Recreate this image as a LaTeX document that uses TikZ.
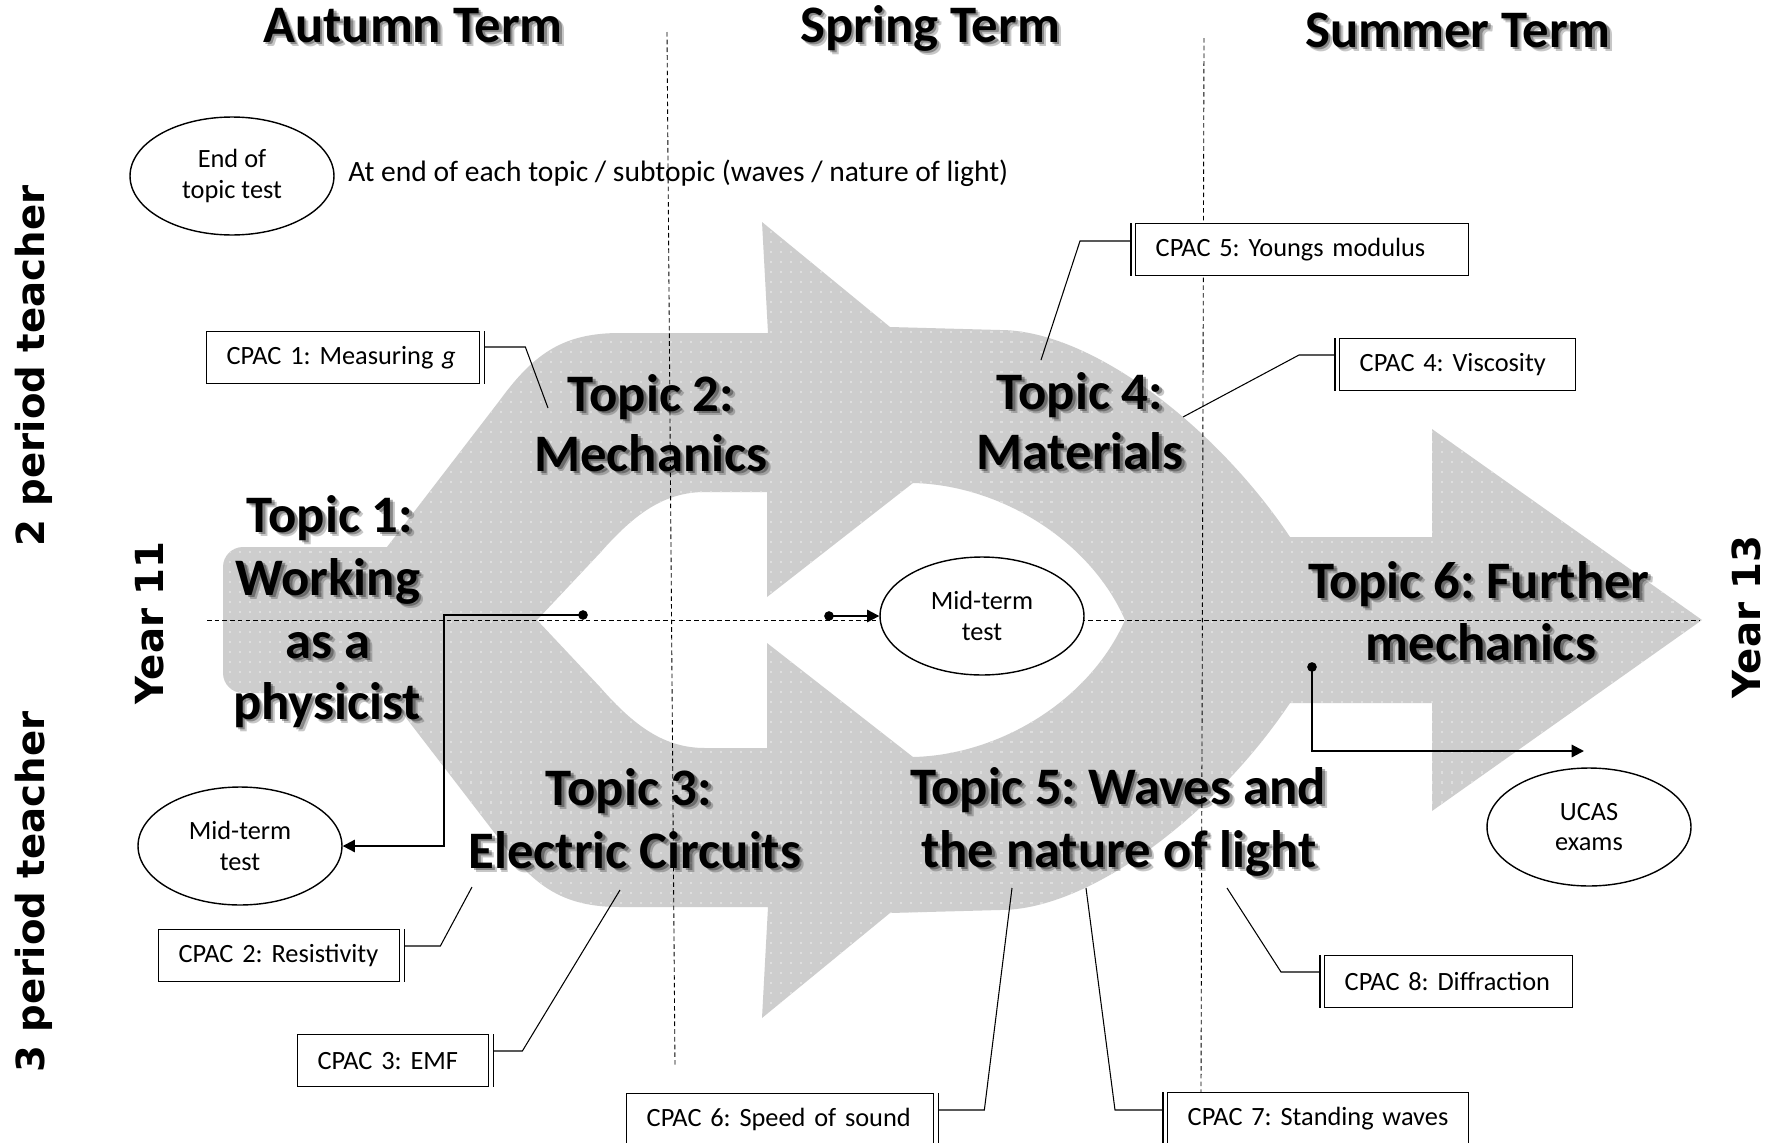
\documentclass[tikz,border=0pt]{standalone}
\usepackage{fontspec}
\setmainfont{Carlito}
\newfontfamily\sidefont{DejaVu Sans}
\usetikzlibrary{shapes.geometric, arrows.meta, patterns, calc}

\definecolor{shapegray}{RGB}{205,205,205}
\definecolor{dotgray}{RGB}{222,222,222}

% light speckle texture for the big flow shape
\pgfdeclarepatternformonly{sparsedots}{\pgfqpoint{-1pt}{-1pt}}{\pgfqpoint{1pt}{1pt}}{\pgfqpoint{5.7pt}{5.7pt}}{%
  \pgfpathrectangle{\pgfqpoint{-0.6pt}{-0.6pt}}{\pgfqpoint{1.2pt}{1.2pt}}\pgfusepath{fill}}

% bold label with a soft drop shadow: name, position, text, style
\newcommand\ShadowLabel[4]{%
  \node[#4, text=black, opacity=.22, xshift=2.6pt, yshift=-2.6pt] (#1-s2) at (#2) {#3};
  \node[#4, text=black, opacity=.32, xshift=1.5pt, yshift=-1.5pt] (#1-s1) at (#2) {#3};
  \node[#4] (#1) at (#2) {#3};
}

\frenchspacing

\begin{document}
\begin{tikzpicture}[x=0.02cm, y=-0.02cm,
  topic/.style={font=\fontsize{30}{36}\selectfont\bfseries, anchor=base, inner sep=0pt},
  side/.style={font=\sidefont\bfseries\fontsize{22}{26}\selectfont, rotate=90, inner sep=0pt},
  note/.style={font=\fontsize{16.8}{20}\selectfont},
  cpac/.style={draw, line width=0.8pt, fill=white, anchor=north west, align=left,
    inner xsep=0.4cm, inner ysep=0pt, minimum height=1.04cm,
    font=\fontsize{15}{17.6}\selectfont, text width=#1},
  bar/.style={line width=0.6pt},
  leader/.style={line width=0.6pt},
  test/.style={ellipse, draw, line width=0.8pt, fill=white, inner sep=0pt,
    minimum width=4.08cm, minimum height=2.36cm, align=center,
    font=\fontsize{15}{17.6}\selectfont},
  guide/.style={line width=0.5pt, dash pattern=on 2.6pt off 1.8pt},
  conn/.style={line width=1.2pt, -{Triangle[length=7pt,width=7pt]}},
  dot/.style={circle, fill=black, inner sep=0pt, minimum size=5.5pt}]

\fill[white] (0,0) rectangle (1779,1143);
\useasboundingbox (0,0) rectangle (1779,1143);

% ---- the big flow shape (two arrows splitting and rejoining into one) ----
\path[fill=shapegray, even odd rule,
      postaction={pattern=sparsedots, pattern color=dotgray, even odd rule}]
  (223,620) -- (223,567) .. controls (223,556) and (232,547) .. (243,547)
  -- (387,547) -- (500,400) .. controls (535,352) and (565,333) .. (620,333)
  -- (768,333) -- (762,222) -- (890,327) -- (1000,330)
  .. controls (1090,330) and (1215,425) .. (1290,537)
  -- (1432,537) -- (1432,429) -- (1702,620) -- (1432,811) -- (1432,703) -- (1290,703)
  .. controls (1215,815) and (1090,910) .. (1000,910)
  -- (890,913) -- (762,1018) -- (768,907) -- (620,907)
  .. controls (565,907) and (535,888) .. (500,840)
  -- (387,693) -- (243,693) .. controls (232,693) and (223,684) .. (223,673) -- cycle
  (537,620) -- (600,553) .. controls (635,513) and (665,492) .. (705,492)
  -- (767,492) -- (767,597) -- (913,483)
  .. controls (1000,485) and (1090,540) .. (1125,620)
  .. controls (1090,700) and (1000,755) .. (913,757)
  -- (767,643) -- (767,748) -- (705,748)
  .. controls (665,748) and (635,727) .. (600,687) -- cycle;

% ---- topic labels ----
\ShadowLabel{t1a}{330,532}{Topic 1:}{topic}
\ShadowLabel{t1b}{328,595}{Working}{topic}
\ShadowLabel{t1c}{328,658}{as a}{topic}
\ShadowLabel{t1d}{327,719}{physicist}{topic}
\ShadowLabel{t2a}{651,411}{Topic 2:}{topic}
\ShadowLabel{t2b}{651,471}{Mechanics}{topic}
\ShadowLabel{t4a}{1080,409}{Topic 4:}{topic}
\ShadowLabel{t4b}{1080,469}{Materials}{topic}
\ShadowLabel{t3a}{629,805}{Topic 3:}{topic}
\ShadowLabel{t3b}{635,868}{Electric Circuits}{topic}
\ShadowLabel{t5a}{1118,804}{Topic 5: Waves and}{topic}
\ShadowLabel{t5b}{1119,867}{the nature of light}{topic}
\ShadowLabel{t6a}{1479,598}{Topic 6: Further}{topic}
\ShadowLabel{t6b}{1481,660}{mechanics}{topic}

% ---- term headings ----
\ShadowLabel{autumn}{413,42}{Autumn Term}{topic}
\ShadowLabel{spring}{930,42}{Spring Term}{topic}
\ShadowLabel{summer}{1458,47}{Summer Term}{topic}

% ---- side labels ----
\node[side] (two) at (34,366) {2 period teacher};
\node[side] (three) at (34,892) {3 period teacher};
\node[side] (y11) at (150,623) {Year 11};
\node[side] (y13) at (1746,617) {Year 13};

% ---- dashed guides ----
\coordinate (gA1) at (667,32);   \coordinate (gA2) at (675,1067);
\coordinate (gB1) at (1204,38);  \coordinate (gB2) at (1201,1092);
\coordinate (gH1) at (207,620);  \coordinate (gH2) at (1700,620);
\draw[guide] (gA1) -- (gA2);
\draw[guide] (gB1) -- (gB2);
\draw[guide] (gH1) -- (gH2);

% ---- tests ----
\node[test] (endtest) at (232,176) {End of\\topic test};
\node[note, anchor=base west, inner sep=0pt] (endnote) at (348,181)
  {At end of each topic / subtopic (waves / nature of light)};
\node[test] (midA) at (240,846) {Mid-term\\test};
\node[test] (midB) at (982,616) {Mid-term\\test};
\node[test] (ucas) at (1589,827) {UCAS\\exams};

\node[dot] (d1) at (583,615) {};
\draw[conn] (d1.center) -- (444,615) |- (midA.east);
\node[dot] (d2) at (829,616) {};
\draw[conn] (d2.center) -- (midB.west);
\node[dot] (d3) at (1312,667) {};
\coordinate (ucasin) at (1584,751);
\draw[conn] (d3.center) |- (ucasin);

% ---- practical callouts ----
\node[cpac=4.66cm] (c1) at (206,331) {\mbox{CPAC 1: Measuring \textit{g}}};
\node[cpac=5.86cm] (c5) at (1135,223) {\mbox{CPAC 5: Youngs modulus}};
\node[cpac=3.92cm] (c4) at (1339,338) {\mbox{CPAC 4: Viscosity}};
\node[cpac=4.02cm] (c2) at (158,929) {\mbox{CPAC 2: Resistivity}};
\node[cpac=3.02cm] (c3) at (297,1034) {\mbox{CPAC 3: EMF}};
\node[cpac=5.34cm] (c6) at (626,1093) {\mbox{CPAC 6: Speed of sound}};
\node[cpac=5.22cm] (c7) at (1167,1092) {\mbox{CPAC 7: Standing waves}};
\node[cpac=4.16cm] (c8) at (1324,955) {\mbox{CPAC 8: Diffraction}};

% accent bars beside each callout
\draw[bar] ($(c1.north east)+(4,0)$) -- ($(c1.south east)+(4,0)$);
\draw[bar] ($(c2.north east)+(4,0)$) -- ($(c2.south east)+(4,0)$);
\draw[bar] ($(c3.north east)+(4,0)$) -- ($(c3.south east)+(4,0)$);
\draw[bar] ($(c6.north east)+(4,0)$) -- ($(c6.south east)+(4,0)$);
\draw[bar] ($(c5.north west)+(-4,0)$) -- ($(c5.south west)+(-4,0)$);
\draw[bar] ($(c4.north west)+(-4,0)$) -- ($(c4.south west)+(-4,0)$);
\draw[bar] ($(c7.north west)+(-4,0)$) -- ($(c7.south west)+(-4,0)$);
\draw[bar] ($(c8.north west)+(-4,0)$) -- ($(c8.south west)+(-4,0)$);

% leader lines to the topics
\coordinate (c1tip) at (548,408);
\coordinate (c5tip) at (1041,360);
\coordinate (c4tip) at (1183,417);
\coordinate (c2tip) at (472,887);
\coordinate (c3tip) at (620,890);
\coordinate (c6tip) at (1012,888);
\coordinate (c7tip) at (1086,888);
\coordinate (c8tip) at (1227,888);
\draw[leader] ($(c1.north east)+(4,16)$) -- ++(41,0) -- (c1tip);
\draw[leader] ($(c2.north east)+(4,17)$) -- ++(36,0) -- (c2tip);
\draw[leader] ($(c3.north east)+(4,17)$) -- ++(29,0) -- (c3tip);
\draw[leader] ($(c6.north east)+(4,17)$) -- ++(46,0) -- (c6tip);
\draw[leader] ($(c5.north west)+(-4,18)$) -- ++(-51,0) -- (c5tip);
\draw[leader] ($(c4.north west)+(-4,17)$) -- ++(-36,0) -- (c4tip);
\draw[leader] ($(c7.north west)+(-4,18)$) -- ++(-48,0) -- (c7tip);
\draw[leader] ($(c8.north west)+(-4,17)$) -- ++(-39,0) -- (c8tip);

\end{tikzpicture}
\end{document}
